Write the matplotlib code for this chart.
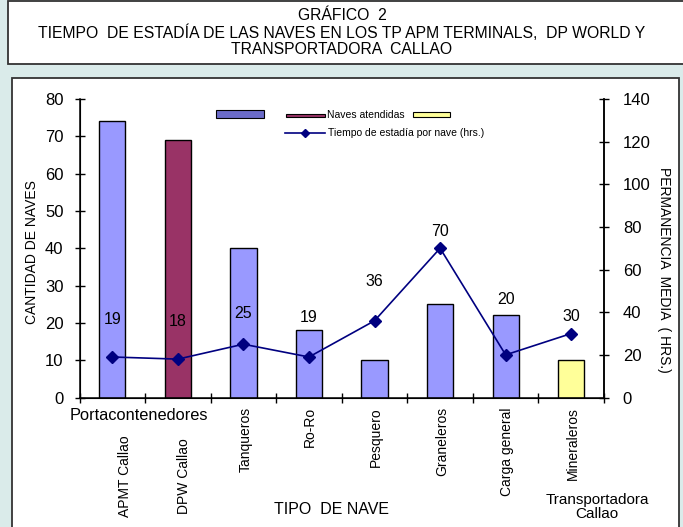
import matplotlib
matplotlib.use('Agg')
import matplotlib.pyplot as plt
from matplotlib.patches import Rectangle
from matplotlib.lines import Line2D
import numpy as np

# ---- data ----
categories = ['APMT Callao', 'DPW Callao', 'Tanqueros', 'Ro-Ro', 'Pesquero',
              'Graneleros', 'Carga general', 'Mineraleros']
naves = [74, 69, 40, 18, 10, 25, 22, 10]
horas = [19, 18, 25, 19, 36, 70, 20, 30]
title_lines = ['GRÁFICO  2',
               'TIEMPO  DE ESTADÍA DE LAS NAVES EN LOS TP APM TERMINALS,  DP WORLD Y',
               'TRANSPORTADORA  CALLAO']
group_label = 'Portacontenedores'
group_label2 = 'Transportadora\nCallao'
left_ticks = list(range(0, 81, 10))
right_ticks = list(range(0, 141, 20))

# ---- styles ----
bar_colors = ['#9999FF', '#993366', '#9999FF', '#9999FF', '#9999FF',
              '#9999FF', '#9999FF', '#FFFF99']
label_offsets_px = [37, 38, 31, 39, 39, 17, 55, 17]
line_color = '#000080'
bg = '#DAEBEA'

plt.rcParams['font.family'] = ['Liberation Sans', 'DejaVu Sans']

W, H = 683, 527
fig = plt.figure(figsize=(W / 100, H / 100), dpi=100, facecolor=bg)

def fx(px):
    return px / W

def fy(py):
    return 1 - py / H

# title box
fig.add_artist(Rectangle((fx(8), fy(64)), fx(700 - 8), (64 - 1) / H,
                         transform=fig.transFigure, facecolor='white',
                         edgecolor='#333333', lw=1.3, zorder=-10))
# chart box
fig.add_artist(Rectangle((fx(12), fy(540)), fx(679 - 12), (540 - 78) / H,
                         transform=fig.transFigure, facecolor='white',
                         edgecolor='#333333', lw=1.3, zorder=-10))

title_y = [16, 33, 50]
for t, yy in zip(title_lines, title_y):
    fig.text(fx(342), fy(yy), t, ha='center', va='center', fontsize=11.3)

ax_l, ax_r, ax_t, ax_b = 79.5, 604, 99, 397.5
ax = fig.add_axes([fx(ax_l), fy(ax_b), fx(ax_r - ax_l), (ax_b - ax_t) / H])
ax.patch.set_alpha(0)
x = np.arange(len(categories))
ax.bar(x, naves, width=0.4, color=bar_colors, edgecolor='black', lw=1.0, zorder=2)
ax.set_xlim(-0.5, len(categories) - 0.5)
ax.set_ylim(0, 80)
ax.set_yticks(left_ticks)
ax.tick_params(axis='y', direction='inout', length=7, width=1, labelsize=12, pad=8)
ax.set_xticks(np.arange(-0.5, len(categories), 1))
ax.set_xticklabels([])
ax.tick_params(axis='x', direction='inout', length=7, width=1)
ax.spines['top'].set_visible(False)
for s in ['left', 'bottom', 'right']:
    ax.spines[s].set_linewidth(1.1)

ax2 = ax.twinx()
ax2.set_ylim(0, 140)
ax2.set_yticks(right_ticks)
ax2.tick_params(axis='y', direction='inout', length=7, width=1, labelsize=12, pad=10)
ax2.spines['top'].set_visible(False)
ax2.spines['right'].set_linewidth(1.1)
ax2.plot(x, horas, color=line_color, lw=1.2, marker='D', ms=6,
         markerfacecolor=line_color, markeredgecolor=line_color, zorder=3)
for xi, h, off in zip(x, horas, label_offsets_px):
    ax2.annotate(str(h), (xi, h), xytext=(0, off), textcoords='offset pixels',
                 ha='center', va='center', fontsize=11.5)

# x labels
xt = ax.get_xaxis_transform()
label_dx = [13, 6, 2, 1, 1, 2, 1, 2]
label_dy = [37.5, 40.5, 9.5, 9.5, 9.5, 9.5, 9.5, 9.5]
for xi, c, dx, dy in zip(x, categories, label_dx, label_dy):
    ax.annotate(c, (xi, 0), xycoords=xt, xytext=(dx, -dy), textcoords='offset pixels',
                rotation=90, ha='center', va='top', fontsize=10)
ax.annotate(group_label, (0.4, 0), xycoords=xt, xytext=(0, -17.5),
            textcoords='offset pixels', ha='center', va='center', fontsize=11.8)
ax.annotate(group_label2, (x[-1], 0), xycoords=xt, xytext=(26, -109.5),
            textcoords='offset pixels', ha='center', va='center', fontsize=11,
            linespacing=1.0)
fig.text(fx(331), fy(510), 'TIPO  DE NAVE', ha='center', va='center', fontsize=11.5)
fig.text(fx(32), fy(252.5), 'CANTIDAD DE NAVES', ha='center', va='center',
         rotation=90, fontsize=10)
fig.text(fx(664), fy(270), 'PERMANENCIA  MEDIA  ( HRS.)', ha='center', va='center',
         rotation=-90, fontsize=10)

# legend (drawn manually to mimic original)
fig.add_artist(Rectangle((fx(216), fy(118)), fx(48), 8 / H, transform=fig.transFigure,
                         facecolor='#6B6BC8', edgecolor='black', lw=0.8))
fig.add_artist(Rectangle((fx(286), fy(117)), fx(39), 3.5 / H, transform=fig.transFigure,
                         facecolor='#993366', edgecolor='black', lw=0.8))
fig.text(fx(327), fy(115), 'Naves atendidas', ha='left', va='center', fontsize=7.5)
fig.add_artist(Rectangle((fx(413), fy(117.5)), fx(37), 5 / H, transform=fig.transFigure,
                         facecolor='#FFFF99', edgecolor='black', lw=0.8))
fig.add_artist(Line2D([fx(285), fx(325)], [fy(133), fy(133)], transform=fig.transFigure,
                      color=line_color, lw=1.2))
fig.add_artist(Line2D([fx(305)], [fy(133)], transform=fig.transFigure,
                      color=line_color, marker='D', ms=4))
fig.text(fx(328), fy(133), 'Tiempo de estadía por nave (hrs.)', ha='left', va='center',
         fontsize=7.5)

fig.savefig('out.png', dpi=100, facecolor=bg)
